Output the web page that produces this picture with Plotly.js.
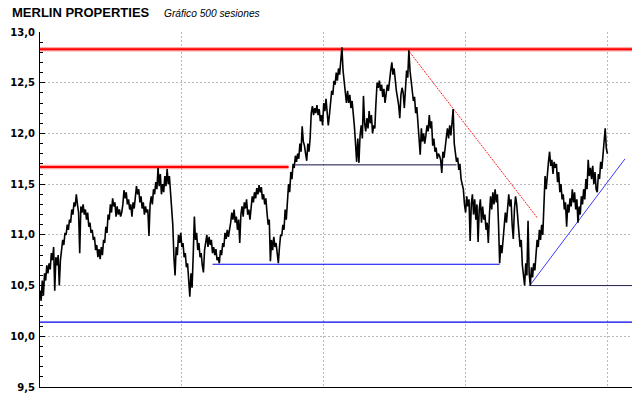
<!DOCTYPE html>
<html>
<head>
<meta charset="utf-8">
<script src="https://cdn.plot.ly/plotly-3.0.1.min.js"></script>
<style>html,body{margin:0;padding:0;background:#fff;}#chart{width:640px;height:398px;}</style>
</head>
<body>
<div id="chart"></div>
<script>
// Closing prices, one per session (500 sessions)
const closes = [
10.45,10.35,10.55,10.40,10.62,10.55,10.70,10.62,10.72,10.66,
10.82,10.75,10.88,10.45,10.78,10.70,10.80,10.50,10.75,10.88,
10.95,10.90,11.02,11.00,11.10,11.05,11.15,11.12,11.25,11.20,
11.32,11.28,11.40,11.30,11.22,10.82,11.28,11.22,11.30,11.20,
11.25,11.15,11.22,11.08,11.12,11.02,11.05,10.95,10.98,10.85,
10.90,10.78,10.86,10.76,10.88,10.80,10.95,10.92,11.08,11.02,
11.20,11.15,11.30,11.22,11.36,11.28,11.32,11.18,11.28,11.20,
11.25,11.18,11.22,11.30,11.44,11.36,11.42,11.30,11.35,11.25,
11.30,11.18,11.32,11.26,11.42,11.48,11.40,11.45,11.32,11.38,
11.26,11.32,11.20,11.28,11.22,11.25,10.99,11.30,11.38,11.30,
11.45,11.40,11.52,11.45,11.66,11.48,11.60,11.40,11.50,11.42,
11.58,11.48,11.65,11.50,11.58,11.40,11.30,11.10,10.78,10.60,
10.88,10.80,11.00,10.92,11.02,10.88,10.92,10.78,10.82,10.68,
10.72,10.55,10.39,10.62,10.48,10.80,11.18,10.95,11.02,10.85,
10.92,10.78,10.82,10.70,10.63,10.85,10.92,11.00,10.88,10.98,
10.90,10.95,10.82,10.88,10.80,10.86,10.75,10.78,10.72,10.85,
10.80,10.92,10.88,11.02,10.96,11.05,10.98,11.04,11.12,11.22,
11.15,11.25,11.12,11.18,11.05,11.15,10.92,11.20,11.28,11.18,
11.32,11.26,11.35,11.20,11.25,11.15,11.30,11.38,11.32,11.42,
11.36,11.46,11.40,11.49,11.42,11.47,11.35,11.40,11.30,11.36,
11.22,11.10,11.15,10.74,10.95,10.85,10.98,10.88,10.92,10.78,
10.72,10.88,11.00,10.99,11.10,11.05,11.25,11.15,11.40,11.50,
11.42,11.62,11.55,11.70,11.66,11.78,11.72,11.80,11.75,11.90,
11.82,12.07,11.92,11.88,11.80,11.73,11.90,11.82,11.95,12.20,
12.27,12.18,12.25,12.20,12.28,12.18,12.24,12.12,12.18,12.08,
12.30,12.22,12.34,12.20,12.08,12.18,12.33,12.42,12.38,12.52,
12.48,12.60,12.52,12.64,12.58,12.72,12.85,12.62,12.52,12.40,
12.30,12.42,12.30,12.38,12.25,12.32,12.22,12.07,11.90,11.72,
11.95,11.71,11.98,12.08,11.95,12.37,12.10,12.02,12.15,12.05,
12.22,12.10,12.18,12.00,12.08,12.05,12.30,12.50,12.45,12.52,
12.42,12.48,12.36,12.44,12.30,12.40,12.48,12.42,12.55,12.62,
12.70,12.58,12.64,12.50,12.42,12.35,12.28,12.15,12.38,12.45,
12.40,12.25,12.45,12.62,12.55,12.82,12.62,12.50,12.42,12.32,
12.36,12.20,12.26,12.10,12.02,11.79,12.05,11.92,12.00,11.90,
11.98,12.08,12.02,12.18,12.05,12.12,11.88,11.95,11.82,11.86,
11.75,11.80,11.78,11.74,11.61,11.82,11.76,11.90,11.96,12.05,
11.95,12.08,11.98,12.10,12.24,11.90,11.80,11.72,11.76,11.64,
11.70,11.55,11.50,11.45,11.30,11.22,11.38,11.28,11.35,10.94,
11.30,11.40,11.20,11.35,11.15,11.30,10.93,11.25,11.35,11.12,
11.28,11.15,11.20,11.05,11.12,10.92,11.20,11.38,11.25,11.42,
11.30,11.45,11.32,11.40,11.10,10.72,10.90,10.82,10.95,11.15,
11.22,11.12,11.30,11.40,11.28,11.35,11.10,10.96,11.25,11.38,
11.30,11.10,11.02,10.88,10.95,10.70,10.60,10.50,10.72,10.60,
11.14,10.62,10.50,10.68,10.58,10.72,10.65,10.85,10.95,10.88,
11.05,10.95,11.10,11.00,11.40,11.58,11.45,11.65,11.72,11.82,
11.68,11.74,11.60,11.72,11.66,11.70,11.52,11.62,11.42,11.50,
11.35,11.40,11.25,11.32,11.08,11.30,11.22,11.36,11.28,11.45,
11.32,11.42,11.25,11.35,11.12,11.28,11.20,11.38,11.30,11.45,
11.35,11.55,11.45,11.74,11.58,11.66,11.55,11.68,11.50,11.62,
11.45,11.42,11.60,11.55,11.72,11.65,11.82,11.90,12.05,11.85,
11.80
];
const sessions = closes.map((_, i) => i);

// Levels (price) and the sessions they span
const resistTop = 12.83, resistTopSpan = [0, 521.6];
const resistMid = 11.67, resistMidSpan = [0, 219];
const supUpper = 11.69, supUpperSpan = [225, 367];
const supMid = 10.71, supMidSpan = [152, 405];
const supLow = 10.50, supLowSpan = [431.7, 521.6];
const supBottom = 10.14, supBottomSpan = [0, 521.6];
// Trend lines: [session, price] endpoints
const downTrendX = [324, 438], downTrendY = [12.826, 11.17];
const upTrendX = [431.7, 515.4], upTrendY = [10.503, 11.749];

const xGrid = [125, 250, 375, 500];

function hline(level, span, color, width, dash) {
  return {x: span, y: [level, level], mode: 'lines', hoverinfo: 'skip',
    line: {color: color, width: width, dash: dash || 'solid'}, showlegend: false};
}

const traces = [
  hline(resistTop, resistTopSpan, 'rgba(255,60,60,0.45)', 4.5),
  hline(resistTop, resistTopSpan, '#ff0000', 2),
  hline(resistMid, resistMidSpan, 'rgba(255,60,60,0.45)', 4.5),
  hline(resistMid, resistMidSpan, '#ff0000', 2),
  hline(supUpper, supUpperSpan, '#10104a', 1),
  hline(supMid, supMidSpan, '#0000ee', 1.2),
  hline(supLow, supLowSpan, '#22224a', 1),
  hline(supBottom, supBottomSpan, '#0000ee', 1.2),
  {x: downTrendX, y: downTrendY, mode: 'lines', hoverinfo: 'skip', showlegend: false,
    line: {color: '#ff2020', width: 1, dash: '2px,1px'}},
  {x: upTrendX, y: upTrendY, mode: 'lines', hoverinfo: 'skip', showlegend: false,
    line: {color: '#3a3aff', width: 1}},
  {x: sessions, y: closes, mode: 'lines', hoverinfo: 'skip', showlegend: false,
    line: {color: '#000000', width: 1.6}}
];

const layout = {
  width: 640, height: 398,
  margin: {l: 40, r: 8, t: 32, b: 11, pad: 0},
  paper_bgcolor: '#ffffff', plot_bgcolor: '#ffffff',
  separators: ',.',
  showlegend: false,
  xaxis: {
    range: [0, 521.6], tickvals: xGrid, showticklabels: false, ticks: '',
    showgrid: true, gridcolor: '#b8b8c4', griddash: '2px,2px', gridwidth: 1,
    zeroline: false, showline: true, linecolor: '#000', linewidth: 1, fixedrange: true
  },
  yaxis: {
    range: [9.5, 13.0], tick0: 9.5, dtick: 0.5, tickformat: '.1f',
    ticks: 'inside', ticklen: 5, tickcolor: '#000', tickwidth: 1,
    minor: {dtick: 0.1, tick0: 9.5, ticks: 'inside', ticklen: 3, tickcolor: '#000', tickwidth: 1, showgrid: false},
    showgrid: true, gridcolor: '#b8b8c4', griddash: '2px,2px', gridwidth: 1,
    zeroline: false, showline: true, linecolor: '#000', linewidth: 1,
    tickfont: {family: 'DejaVu Sans', size: 10, color: '#000', weight: 'bold'},
    ticklabelstandoff: 2, fixedrange: true
  },
  annotations: [
    {text: 'MERLIN PROPERTIES', xref: 'paper', yref: 'paper', x: -0.0507, y: 1.055,
      xanchor: 'left', yanchor: 'middle', showarrow: false,
      font: {family: 'Liberation Sans', size: 13, color: '#000', weight: 'bold'}},
    {text: '<i>Gráfico 500 sesiones</i>', xref: 'paper', yref: 'paper', x: 0.2061, y: 1.052,
      xanchor: 'left', yanchor: 'middle', showarrow: false,
      font: {family: 'Liberation Sans', size: 10.2, color: '#000'}}
  ]
};

Plotly.newPlot('chart', traces, layout, {staticPlot: true, displayModeBar: false});
</script>
</body>
</html>
